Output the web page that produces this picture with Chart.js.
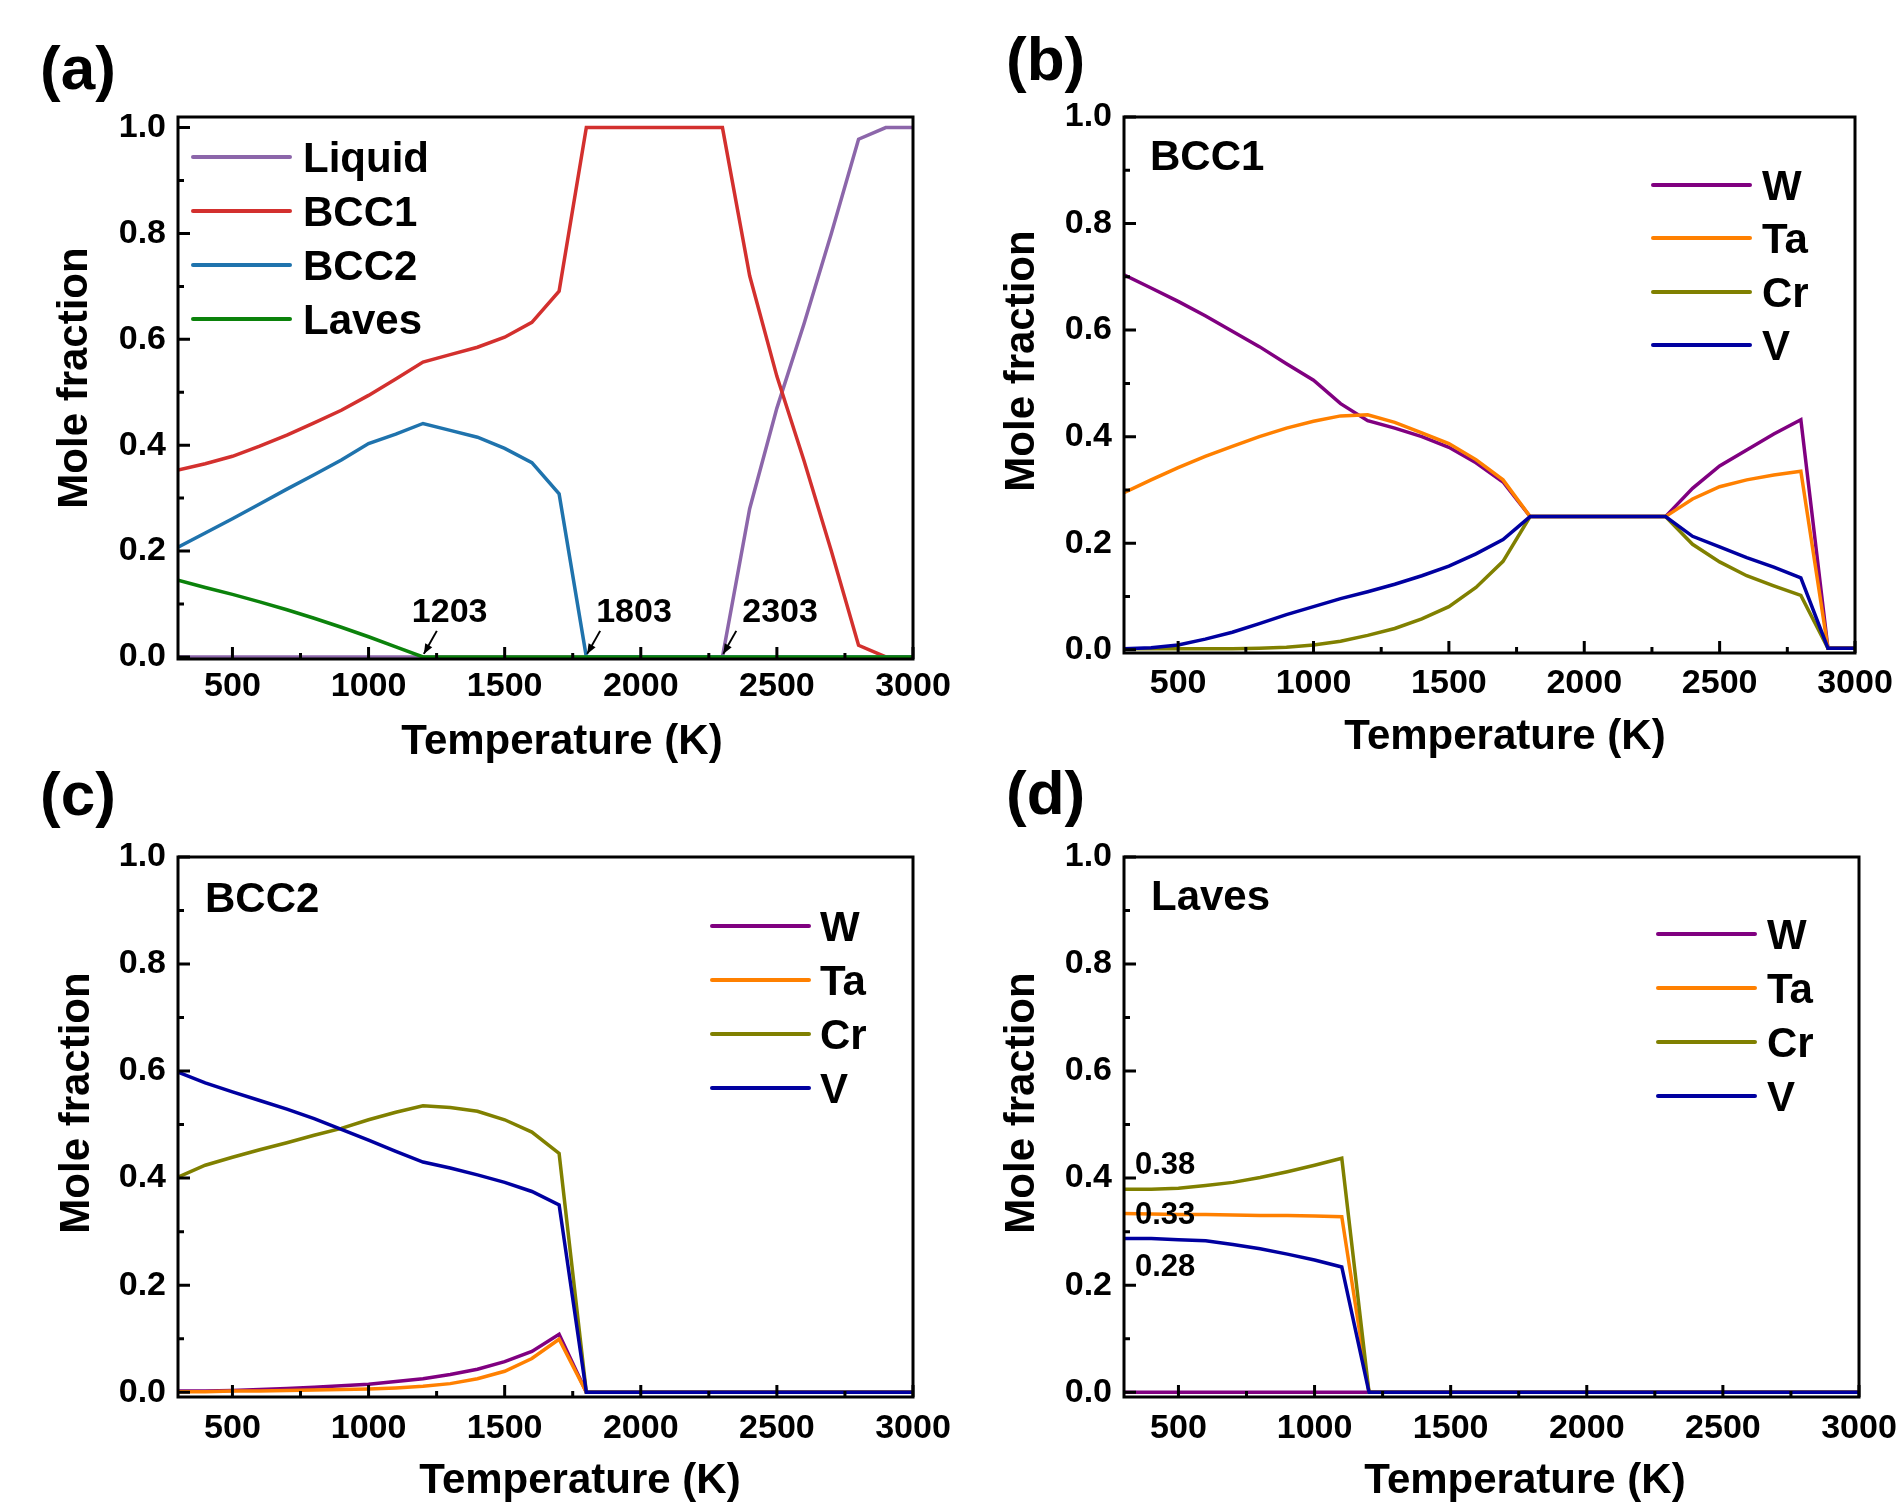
<!DOCTYPE html>
<html>
<head>
<meta charset="utf-8">
<title>Phase fractions vs temperature</title>
<script src="https://cdn.jsdelivr.net/npm/chart.js@4.4.1/dist/chart.umd.min.js"></script>
<style>
  body { margin: 0; background: #fff; }
  #fig { position: relative; width: 1902px; height: 1504px; background: #fff; }
  #fig canvas { position: absolute; left: 0; top: 0; }
</style>
</head>
<body>
<div id="fig">
  <canvas id="panelA" width="1902" height="1504"></canvas>
  <canvas id="panelB" width="1902" height="1504"></canvas>
  <canvas id="panelC" width="1902" height="1504"></canvas>
  <canvas id="panelD" width="1902" height="1504"></canvas>
</div>
<script>
// temperaturas (K) e rotulos dos eixos
const temps = [300, 400, 500, 600, 700, 800, 900, 1000, 1100, 1200, 1300, 1400, 1500, 1600,
               1700, 1800, 1900, 2000, 2100, 2200, 2300, 2400, 2500, 2600, 2700, 2800, 2900, 3000];
const xTicks = [500, 1000, 1500, 2000, 2500, 3000];
const yTicks = [0.0, 0.2, 0.4, 0.6, 0.8, 1.0];

// (a) fracao molar das fases
const phaseNames = ['Liquid', 'BCC1', 'BCC2', 'Laves'];
const liquid = [0, 0, 0, 0, 0, 0, 0, 0, 0, 0, 0, 0, 0, 0,
                0, 0, 0, 0, 0, 0, 0, 0.28, 0.47, 0.63, 0.80, 0.978, 1.0, 1.0];
const bcc1 = [0.353, 0.365, 0.379, 0.398, 0.419, 0.442, 0.466, 0.494, 0.525, 0.557, 0.571, 0.585, 0.604, 0.632,
              0.691, 1.0, 1.0, 1.0, 1.0, 1.0, 1.0, 0.72, 0.53, 0.37, 0.20, 0.022, 0, 0];
const bcc2 = [0.207, 0.234, 0.261, 0.289, 0.317, 0.344, 0.372, 0.403, 0.421, 0.441, 0.428, 0.415, 0.394, 0.367,
              0.308, 0, 0, 0, 0, 0, 0, 0, 0, 0, 0, 0, 0, 0];
const laves = [0.145, 0.131, 0.118, 0.104, 0.089, 0.073, 0.056, 0.038, 0.019, 0, 0, 0, 0, 0,
               0, 0, 0, 0, 0, 0, 0, 0, 0, 0, 0, 0, 0, 0];
const markTemps = [1203, 1803, 2303];
const markLabels = ['1203', '1803', '2303'];

// (b) composicao da BCC1
const elementNames = ['W', 'Ta', 'Cr', 'V'];
const bcc1W = [0.704, 0.679, 0.654, 0.627, 0.598, 0.569, 0.537, 0.506, 0.462, 0.430, 0.416, 0.400, 0.380, 0.351,
               0.315, 0.25, 0.25, 0.25, 0.25, 0.25, 0.25, 0.303, 0.345, 0.375, 0.405, 0.432, 0.003, 0.003];
const bcc1Ta = [0.295, 0.319, 0.342, 0.363, 0.382, 0.400, 0.416, 0.429, 0.439, 0.441, 0.427, 0.407, 0.387, 0.357,
                0.319, 0.25, 0.25, 0.25, 0.25, 0.25, 0.25, 0.283, 0.306, 0.319, 0.328, 0.335, 0.003, 0.003];
const bcc1Cr = [0.002, 0.002, 0.002, 0.002, 0.002, 0.003, 0.005, 0.009, 0.016, 0.027, 0.040, 0.058, 0.081, 0.117,
                0.166, 0.25, 0.25, 0.25, 0.25, 0.25, 0.25, 0.198, 0.165, 0.139, 0.120, 0.102, 0.003, 0.003];
const bcc1V = [0.002, 0.004, 0.009, 0.020, 0.033, 0.049, 0.066, 0.081, 0.096, 0.109, 0.123, 0.139, 0.157, 0.180,
               0.207, 0.25, 0.25, 0.25, 0.25, 0.25, 0.25, 0.213, 0.193, 0.173, 0.155, 0.135, 0.003, 0.003];

// (c) composicao da BCC2
const bcc2W = [0.002, 0.002, 0.003, 0.005, 0.007, 0.009, 0.012, 0.015, 0.020, 0.025, 0.033, 0.043, 0.057, 0.076,
               0.108, 0, 0, 0, 0, 0, 0, 0, 0, 0, 0, 0, 0, 0];
const bcc2Ta = [0.001, 0.001, 0.002, 0.002, 0.003, 0.004, 0.005, 0.006, 0.008, 0.011, 0.016, 0.025, 0.039, 0.063,
                0.099, 0, 0, 0, 0, 0, 0, 0, 0, 0, 0, 0, 0, 0];
const bcc2Cr = [0.402, 0.424, 0.439, 0.453, 0.466, 0.480, 0.493, 0.509, 0.523, 0.535, 0.532, 0.525, 0.509, 0.486,
                0.446, 0, 0, 0, 0, 0, 0, 0, 0, 0, 0, 0, 0, 0];
const bcc2V = [0.598, 0.578, 0.561, 0.545, 0.529, 0.511, 0.491, 0.471, 0.450, 0.430, 0.419, 0.406, 0.392, 0.375,
               0.350, 0, 0, 0, 0, 0, 0, 0, 0, 0, 0, 0, 0, 0];

// (d) composicao da Laves
const lavesW = [0, 0, 0, 0, 0, 0, 0, 0, 0, 0, 0, 0, 0, 0,
                0, 0, 0, 0, 0, 0, 0, 0, 0, 0, 0, 0, 0, 0];
const lavesTa = [0.334, 0.333, 0.332, 0.332, 0.331, 0.330, 0.330, 0.329, 0.328, 0, 0, 0, 0, 0,
                 0, 0, 0, 0, 0, 0, 0, 0, 0, 0, 0, 0, 0, 0];
const lavesCr = [0.379, 0.379, 0.381, 0.386, 0.392, 0.401, 0.412, 0.424, 0.437, 0, 0, 0, 0, 0,
                 0, 0, 0, 0, 0, 0, 0, 0, 0, 0, 0, 0, 0, 0];
const lavesV = [0.287, 0.287, 0.285, 0.283, 0.276, 0.268, 0.258, 0.247, 0.234, 0, 0, 0, 0, 0,
                0, 0, 0, 0, 0, 0, 0, 0, 0, 0, 0, 0, 0, 0];
const lavesStartLabels = ['0.38', '0.33', '0.28'];

const FONT = "'Liberation Sans', Arial, Helvetica, sans-serif";
Chart.defaults.font.family = FONT;
Chart.defaults.font.weight = 'bold';
Chart.defaults.color = '#000';

const phaseColors = ['#8c66aa', '#d3302e', '#1f73ad', '#0b820b'];
const elementColors = ['#800080', '#ff8000', '#808000', '#0000a0'];

function toPoints(values) {
    return temps.map((t, i) => ({ x: t, y: values[i] }));
}

// ultima serie fica por cima
function makeDatasets(names, series, colors) {
    return series.map((values, i) => ({
        label: names[i],
        data: toPoints(values),
        borderColor: colors[i],
        backgroundColor: colors[i],
        borderWidth: 3.5,
        pointRadius: 0,
        tension: 0,
        order: series.length - i
    }));
}

// moldura, ticks para dentro e textos do painel
function makeDecor(cfg) {
    return {
        id: 'decor',
        afterDatasetsDraw(chart) {
            const { ctx, chartArea: a, scales: { x, y } } = chart;
            ctx.save();
            ctx.strokeStyle = '#000';
            ctx.lineWidth = 3;
            ctx.beginPath();
            xTicks.forEach(v => {
                const px = x.getPixelForValue(v);
                ctx.moveTo(px, a.bottom); ctx.lineTo(px, a.bottom - 12);
                if (v - 250 > x.min) {
                    const pm = x.getPixelForValue(v - 250);
                    ctx.moveTo(pm, a.bottom); ctx.lineTo(pm, a.bottom - 6);
                }
            });
            yTicks.forEach(v => {
                const py = y.getPixelForValue(v);
                ctx.moveTo(a.left, py); ctx.lineTo(a.left + 12, py);
                if (v + 0.1 < y.max) {
                    const pm = y.getPixelForValue(v + 0.1);
                    ctx.moveTo(a.left, pm); ctx.lineTo(a.left + 6, pm);
                }
            });
            ctx.stroke();
            ctx.strokeRect(a.left, a.top, a.right - a.left, a.bottom - a.top);
            ctx.restore();
        },
        afterDraw(chart) {
            const { ctx, scales: { x, y } } = chart;
            ctx.save();
            ctx.fillStyle = '#000';
            ctx.textBaseline = 'alphabetic';

            ctx.font = 'bold 62px ' + FONT;
            ctx.textAlign = 'left';
            ctx.fillText(cfg.panel, cfg.panelPos[0], cfg.panelPos[1]);

            ctx.font = 'bold 42px ' + FONT;
            if (cfg.tag) ctx.fillText(cfg.tag, cfg.tagPos[0], cfg.tagPos[1]);

            ctx.textAlign = 'center';
            ctx.fillText('Temperature (K)', cfg.xTitle[0], cfg.xTitle[1]);
            ctx.save();
            ctx.translate(cfg.yTitle[0], cfg.yTitle[1]);
            ctx.rotate(-Math.PI / 2);
            ctx.textBaseline = 'middle';
            ctx.fillText('Mole fraction', 0, 0);
            ctx.restore();

            // legenda
            const lg = cfg.legend;
            chart.data.datasets.forEach((ds, i) => {
                const ly = lg.ys[i];
                ctx.strokeStyle = ds.borderColor;
                ctx.lineWidth = 4;
                ctx.lineCap = 'round';
                ctx.beginPath();
                ctx.moveTo(lg.x0, ly); ctx.lineTo(lg.x1, ly);
                ctx.stroke();
                ctx.textAlign = 'left';
                ctx.fillText(ds.label, lg.textX, ly + 15);
            });

            // setas com as temperaturas de transicao
            if (cfg.marks) {
                ctx.font = 'bold 34px ' + FONT;
                ctx.strokeStyle = '#000';
                ctx.lineWidth = 2;
                ctx.lineCap = 'butt';
                cfg.marks.temps.forEach((t, i) => {
                    const tx = x.getPixelForValue(t);
                    const ty = y.getPixelForValue(0) - 3;
                    const sx = tx + 13, sy = ty - 23;
                    const ang = Math.atan2(ty - sy, tx - sx);
                    ctx.beginPath();
                    ctx.moveTo(sx, sy); ctx.lineTo(tx, ty);
                    ctx.stroke();
                    ctx.beginPath();
                    ctx.moveTo(tx, ty);
                    ctx.lineTo(tx - 10 * Math.cos(ang) + 4 * Math.sin(ang), ty - 10 * Math.sin(ang) - 4 * Math.cos(ang));
                    ctx.lineTo(tx - 10 * Math.cos(ang) - 4 * Math.sin(ang), ty - 10 * Math.sin(ang) + 4 * Math.cos(ang));
                    ctx.closePath();
                    ctx.fill();
                    ctx.fillText(cfg.marks.labels[i], tx + cfg.marks.dx[i], ty - 32);
                });
            }

            // valores iniciais no painel (d)
            if (cfg.notes) {
                ctx.font = 'bold 31px ' + FONT;
                ctx.textAlign = 'left';
                cfg.notes.labels.forEach((txt, i) => {
                    ctx.fillText(txt, cfg.notes.x, cfg.notes.ys[i]);
                });
            }
            ctx.restore();
        }
    };
}

function makePanel(id, datasets, area, yMin, yMax, tickPad, decor) {
    const [L, T, R, B] = area;
    return new Chart(document.getElementById(id), {
        type: 'line',
        data: { datasets: datasets },
        options: {
            responsive: false,
            animation: false,
            layout: { padding: { left: L - 60, top: T, right: 1902 - R, bottom: 1504 - B - 60 } },
            plugins: { legend: { display: false }, tooltip: { enabled: false } },
            scales: {
                x: {
                    type: 'linear', min: 300, max: 3000,
                    afterBuildTicks: s => { s.ticks = xTicks.map(v => ({ value: v })); },
                    afterFit: s => { s.height = 60; s.paddingLeft = 0; s.paddingRight = 0; },
                    grid: { display: false, drawTicks: false },
                    border: { display: false },
                    ticks: {
                        font: { size: 34, weight: 'bold' }, color: '#000', padding: tickPad,
                        maxRotation: 0, autoSkip: false, callback: v => String(v)
                    }
                },
                y: {
                    type: 'linear', min: yMin, max: yMax,
                    afterBuildTicks: s => { s.ticks = yTicks.map(v => ({ value: v })); },
                    afterFit: s => { s.width = 60; s.paddingTop = 0; s.paddingBottom = 0; },
                    grid: { display: false, drawTicks: false },
                    border: { display: false },
                    ticks: {
                        font: { size: 34, weight: 'bold' }, color: '#000', padding: 12,
                        callback: v => v.toFixed(1)
                    }
                }
            }
        },
        plugins: [makeDecor(decor)]
    });
}

document.addEventListener('DOMContentLoaded', function () {
    makePanel('panelA', makeDatasets(phaseNames, [liquid, bcc1, bcc2, laves], phaseColors),
        [178, 117, 913, 659], -0.004, 1.02, 7, {
            panel: '(a)', panelPos: [40, 89],
            xTitle: [562, 754], yTitle: [75, 378],
            legend: { x0: 193, x1: 290, textX: 303, ys: [157, 211, 265, 319] },
            marks: { temps: markTemps, labels: markLabels, dx: [-12, 9, 19] }
        });

    makePanel('panelB', makeDatasets(elementNames, [bcc1W, bcc1Ta, bcc1Cr, bcc1V], elementColors),
        [1124, 117, 1855, 653], -0.006, 1.0, 10, {
            panel: '(b)', panelPos: [1006, 80],
            tag: 'BCC1', tagPos: [1150, 170],
            xTitle: [1505, 749], yTitle: [1022, 361],
            legend: { x0: 1653, x1: 1750, textX: 1762, ys: [185, 238, 292, 345] }
        });

    makePanel('panelC', makeDatasets(elementNames, [bcc2W, bcc2Ta, bcc2Cr, bcc2V], elementColors),
        [178, 857, 913, 1397], -0.009, 1.0, 11, {
            panel: '(c)', panelPos: [40, 815],
            tag: 'BCC2', tagPos: [205, 912],
            xTitle: [580, 1493], yTitle: [77, 1103],
            legend: { x0: 712, x1: 809, textX: 820, ys: [926, 980, 1034, 1088] }
        });

    makePanel('panelD', makeDatasets(elementNames, [lavesW, lavesTa, lavesCr, lavesV], elementColors),
        [1124, 857, 1859, 1397], -0.009, 1.0, 11, {
            panel: '(d)', panelPos: [1006, 814],
            tag: 'Laves', tagPos: [1151, 910],
            xTitle: [1525, 1493], yTitle: [1022, 1103],
            legend: { x0: 1658, x1: 1755, textX: 1767, ys: [934, 988, 1042, 1096] },
            notes: { labels: lavesStartLabels, x: 1135, ys: [1174, 1224, 1276] }
        });
});
</script>
</body>
</html>
